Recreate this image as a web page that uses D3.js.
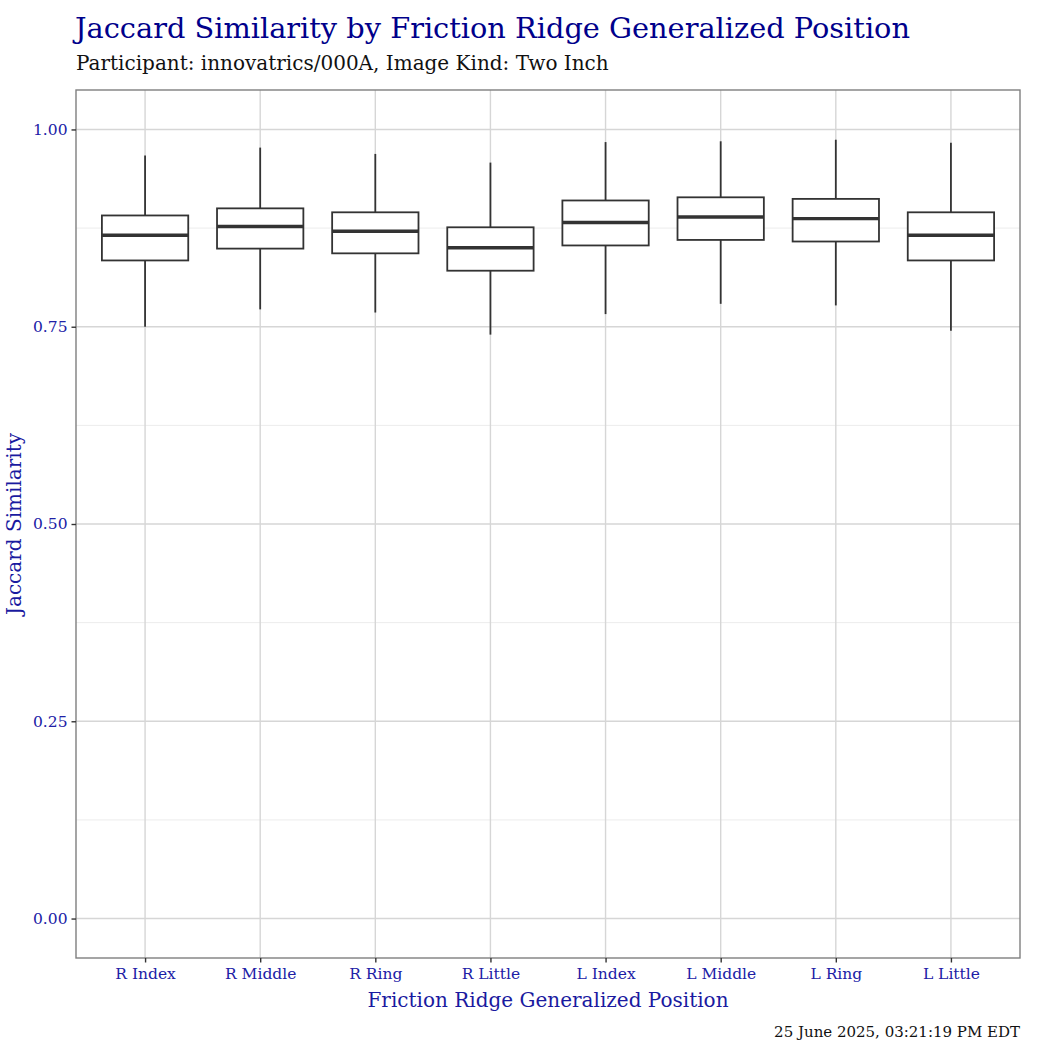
<!DOCTYPE html>
<html>
<head>
<meta charset="utf-8">
<script src="https://cdn.jsdelivr.net/npm/d3@7"></script>
<style>
  body { margin: 0; background: #fff; }
  text { font-family: "DejaVu Serif", "Liberation Serif", serif; }
</style>
</head>
<body>
<svg id="chart" width="1050" height="1050"></svg>
<script>
// finger positions and box statistics
var positions = ["R Index", "R Middle", "R Ring", "R Little", "L Index", "L Middle", "L Ring", "L Little"];
var whiskerLow = [0.750, 0.772, 0.768, 0.740, 0.766, 0.779, 0.777, 0.745];
var q1 = [0.834, 0.849, 0.843, 0.821, 0.853, 0.860, 0.858, 0.834];
var median = [0.866, 0.877, 0.871, 0.850, 0.882, 0.889, 0.887, 0.866];
var q3 = [0.891, 0.900, 0.895, 0.876, 0.910, 0.914, 0.912, 0.895];
var whiskerHigh = [0.967, 0.977, 0.969, 0.958, 0.984, 0.985, 0.987, 0.983];
var yTicks = [0, 0.25, 0.5, 0.75, 1];
var yMinor = [0.125, 0.375, 0.625, 0.875];

var svg = d3.select("#chart"),
    width = +svg.attr("width"),
    height = +svg.attr("height");
var margin = {top: 90, right: 30, bottom: 92, left: 76};
var inner = {w: width - margin.left - margin.right, h: height - margin.top - margin.bottom};

var boxes = positions.map(function (p, i) {
  return {pos: p, lo: whiskerLow[i], q1: q1[i], med: median[i], q3: q3[i], hi: whiskerHigh[i]};
});

// ggplot style discrete expansion of 0.6 on each side
var x = d3.scaleLinear()
  .domain([-0.6, positions.length - 1 + 0.6])
  .range([margin.left, margin.left + inner.w]);
var y = d3.scaleLinear()
  .domain([-0.05, 1.05])
  .range([margin.top + inner.h, margin.top]);

var grid = svg.append("g").attr("class", "grid");
grid.selectAll("line.minor")
  .data(yMinor)
  .enter().append("line")
  .attr("x1", margin.left).attr("x2", margin.left + inner.w)
  .attr("y1", function (d) { return y(d); })
  .attr("y2", function (d) { return y(d); })
  .attr("stroke", "#ececec").attr("stroke-width", 1);
grid.selectAll("line.majorY")
  .data(yTicks)
  .enter().append("line")
  .attr("x1", margin.left).attr("x2", margin.left + inner.w)
  .attr("y1", function (d) { return y(d); })
  .attr("y2", function (d) { return y(d); })
  .attr("stroke", "#d6d6d6").attr("stroke-width", 1.4);
grid.selectAll("line.majorX")
  .data(positions)
  .enter().append("line")
  .attr("x1", function (d, i) { return x(i); })
  .attr("x2", function (d, i) { return x(i); })
  .attr("y1", margin.top).attr("y2", margin.top + inner.h)
  .attr("stroke", "#d6d6d6").attr("stroke-width", 1.4);

var boxW = x(0.75) - x(0);
var box = svg.append("g")
  .attr("class", "boxes")
  .selectAll("g")
  .data(boxes)
  .enter().append("g");

box.append("line")
  .attr("x1", function (d, i) { return x(i); })
  .attr("x2", function (d, i) { return x(i); })
  .attr("y1", function (d) { return y(d.hi); })
  .attr("y2", function (d) { return y(d.q3); })
  .attr("stroke", "#333").attr("stroke-width", 1.8);
box.append("line")
  .attr("x1", function (d, i) { return x(i); })
  .attr("x2", function (d, i) { return x(i); })
  .attr("y1", function (d) { return y(d.q1); })
  .attr("y2", function (d) { return y(d.lo); })
  .attr("stroke", "#333").attr("stroke-width", 1.8);
box.append("rect")
  .attr("x", function (d, i) { return x(i) - boxW / 2; })
  .attr("width", boxW)
  .attr("y", function (d) { return y(d.q3); })
  .attr("height", function (d) { return y(d.q1) - y(d.q3); })
  .attr("fill", "#fff").attr("stroke", "#333").attr("stroke-width", 1.8);
box.append("line")
  .attr("x1", function (d, i) { return x(i) - boxW / 2; })
  .attr("x2", function (d, i) { return x(i) + boxW / 2; })
  .attr("y1", function (d) { return y(d.med); })
  .attr("y2", function (d) { return y(d.med); })
  .attr("stroke", "#333").attr("stroke-width", 3.4);

// panel border
svg.append("rect")
  .attr("x", margin.left).attr("y", margin.top)
  .attr("width", inner.w).attr("height", inner.h)
  .attr("fill", "none").attr("stroke", "#7f7f7f").attr("stroke-width", 1.4);

// axes
var yAxis = svg.append("g")
  .attr("transform", "translate(" + margin.left + ",0)")
  .call(d3.axisLeft(y).tickValues(yTicks).tickFormat(d3.format(".2f")).tickSize(4.5).tickPadding(4));
var xAxis = svg.append("g")
  .attr("transform", "translate(0," + (margin.top + inner.h) + ")")
  .call(d3.axisBottom(x).tickValues(d3.range(positions.length))
    .tickFormat(function (i) { return positions[i]; }).tickSize(4.5).tickPadding(5));
[yAxis, xAxis].forEach(function (a) {
  a.select(".domain").remove();
  a.selectAll(".tick line").attr("stroke", "#333").attr("stroke-width", 1.4);
  a.selectAll(".tick text")
    .attr("fill", "#2020a6")
    .style("font-family", '"DejaVu Serif", "Liberation Serif", serif')
    .style("font-size", "15.5px");
});

// titles
svg.append("text")
  .attr("x", 75).attr("y", 38)
  .attr("fill", "#00008b")
  .style("font-size", "28.8px")
  .text("Jaccard Similarity by Friction Ridge Generalized Position");
svg.append("text")
  .attr("x", 76).attr("y", 70)
  .attr("fill", "#111")
  .style("font-size", "20px")
  .text("Participant: innovatrics/000A, Image Kind: Two Inch");
svg.append("text")
  .attr("x", margin.left + inner.w / 2).attr("y", 1007)
  .attr("text-anchor", "middle")
  .attr("fill", "#1a1aa0")
  .style("font-size", "20px")
  .text("Friction Ridge Generalized Position");
svg.append("text")
  .attr("transform", "translate(21," + (margin.top + inner.h / 2) + ") rotate(-90)")
  .attr("text-anchor", "middle")
  .attr("fill", "#1a1aa0")
  .style("font-size", "20px")
  .text("Jaccard Similarity");
svg.append("text")
  .attr("x", 1020).attr("y", 1037)
  .attr("text-anchor", "end")
  .attr("fill", "#111")
  .style("font-size", "15px")
  .text("25 June 2025, 03:21:19 PM EDT");
</script>
</body>
</html>
